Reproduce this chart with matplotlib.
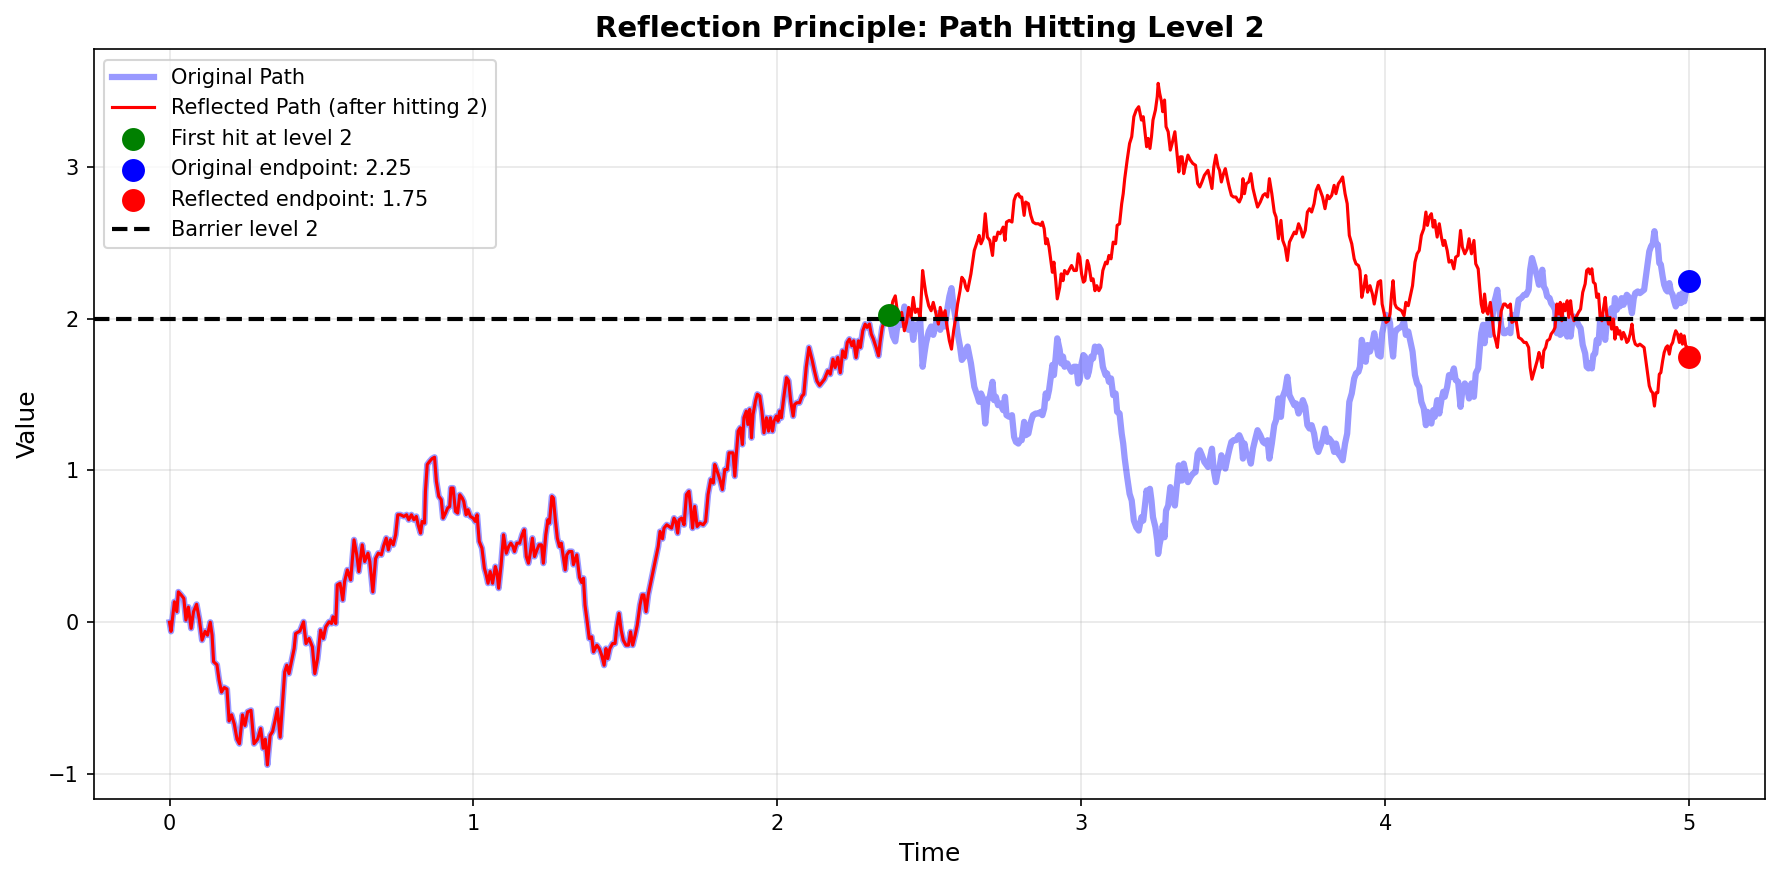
import numpy as np
import matplotlib
matplotlib.use("Agg")
import matplotlib.pyplot as plt

barrier_level = 2.0

# Original Brownian path (time, value)
time_pts = [
    0.000, 0.005, 0.016, 0.024, 0.029, 0.038, 0.047, 0.054, 0.062, 0.071,
    0.079, 0.089, 0.098, 0.107, 0.117, 0.125, 0.134, 0.140, 0.145, 0.156,
    0.163, 0.171, 0.180, 0.189, 0.196, 0.204, 0.213, 0.222, 0.230, 0.240,
    0.248, 0.257, 0.268, 0.278, 0.290, 0.300, 0.308, 0.315, 0.322, 0.331,
    0.339, 0.347, 0.355, 0.364, 0.372, 0.379, 0.386, 0.393, 0.401, 0.410,
    0.415, 0.429, 0.441, 0.449, 0.459, 0.470, 0.478, 0.487, 0.497, 0.506,
    0.514, 0.525, 0.533, 0.538, 0.547, 0.552, 0.561, 0.570, 0.576, 0.585,
    0.596, 0.607, 0.616, 0.623, 0.634, 0.642, 0.653, 0.659, 0.669, 0.678,
    0.687, 0.697, 0.704, 0.713, 0.720, 0.727, 0.736, 0.744, 0.751, 0.760,
    0.771, 0.780, 0.787, 0.796, 0.804, 0.812, 0.818, 0.826, 0.831, 0.839,
    0.842, 0.848, 0.856, 0.864, 0.872, 0.878, 0.886, 0.894, 0.900, 0.908,
    0.915, 0.922, 0.926, 0.933, 0.941, 0.948, 0.955, 0.963, 0.968, 0.976,
    0.982, 0.990, 0.999, 1.006, 1.012, 1.019, 1.028, 1.036, 1.042, 1.048,
    1.055, 1.063, 1.072, 1.077, 1.083, 1.091, 1.099, 1.108, 1.116, 1.123,
    1.130, 1.135, 1.143, 1.152, 1.160, 1.167, 1.174, 1.181, 1.187, 1.194,
    1.201, 1.209, 1.216, 1.224, 1.230, 1.238, 1.245, 1.250, 1.258, 1.263,
    1.269, 1.276, 1.283, 1.289, 1.294, 1.302, 1.307, 1.315, 1.324, 1.329,
    1.340, 1.349, 1.356, 1.362, 1.367, 1.375, 1.381, 1.389, 1.395, 1.406,
    1.414, 1.422, 1.430, 1.436, 1.442, 1.449, 1.458, 1.466, 1.471, 1.479,
    1.486, 1.493, 1.502, 1.510, 1.517, 1.524, 1.532, 1.539, 1.548, 1.555,
    1.561, 1.568, 1.575, 1.584, 1.592, 1.600, 1.608, 1.614, 1.622, 1.627,
    1.636, 1.644, 1.652, 1.660, 1.666, 1.672, 1.677, 1.685, 1.693, 1.701,
    1.709, 1.715, 1.721, 1.728, 1.736, 1.745, 1.756, 1.764, 1.772, 1.781,
    1.789, 1.794, 1.802, 1.811, 1.819, 1.827, 1.835, 1.841, 1.854, 1.860,
    1.865, 1.871, 1.878, 1.885, 1.890, 1.898, 1.903, 1.909, 1.915, 1.920,
    1.928, 1.934, 1.942, 1.949, 1.956, 1.964, 1.971, 1.977, 1.984, 1.989,
    1.997, 2.002, 2.008, 2.013, 2.021, 2.030, 2.037, 2.044, 2.052, 2.057,
    2.064, 2.073, 2.081, 2.087, 2.095, 2.104, 2.115, 2.122, 2.130, 2.139,
    2.155, 2.166, 2.174, 2.183, 2.190, 2.199, 2.207, 2.215, 2.223, 2.230,
    2.237, 2.245, 2.251, 2.259, 2.267, 2.273, 2.281, 2.289, 2.295, 2.303,
    2.309, 2.316, 2.325, 2.333, 2.338, 2.345, 2.352, 2.360, 2.366, 2.380,
    2.388, 2.393, 2.401, 2.409, 2.418, 2.425, 2.432, 2.440, 2.447, 2.454,
    2.462, 2.470, 2.478, 2.484, 2.489, 2.498, 2.506, 2.513, 2.522, 2.530,
    2.536, 2.544, 2.552, 2.557, 2.566, 2.573, 2.580, 2.588, 2.593, 2.601,
    2.607, 2.615, 2.620, 2.626, 2.637, 2.648, 2.659, 2.664, 2.670, 2.677,
    2.684, 2.691, 2.699, 2.708, 2.713, 2.719, 2.726, 2.733, 2.743, 2.749,
    2.754, 2.763, 2.772, 2.779, 2.785, 2.793, 2.798, 2.804, 2.812, 2.817,
    2.826, 2.834, 2.841, 2.850, 2.859, 2.867, 2.872, 2.878, 2.883, 2.888,
    2.894, 2.900, 2.905, 2.910, 2.916, 2.921, 2.929, 2.934, 2.940, 2.945,
    2.954, 2.962, 2.968, 2.976, 2.984, 2.990, 2.995, 3.001, 3.007, 3.012,
    3.020, 3.025, 3.033, 3.039, 3.045, 3.051, 3.058, 3.064, 3.071, 3.080,
    3.085, 3.091, 3.098, 3.105, 3.113, 3.118, 3.126, 3.133, 3.138, 3.143,
    3.151, 3.159, 3.166, 3.173, 3.181, 3.189, 3.198, 3.204, 3.209, 3.215,
    3.220, 3.226, 3.231, 3.236, 3.244, 3.250, 3.253, 3.258, 3.264, 3.268,
    3.274, 3.279, 3.286, 3.293, 3.299, 3.308, 3.315, 3.321, 3.326, 3.332,
    3.337, 3.343, 3.351, 3.359, 3.367, 3.376, 3.383, 3.390, 3.397, 3.405,
    3.417, 3.422, 3.430, 3.436, 3.443, 3.450, 3.455, 3.461, 3.468, 3.474,
    3.483, 3.488, 3.494, 3.501, 3.509, 3.515, 3.520, 3.527, 3.532, 3.537,
    3.543, 3.551, 3.558, 3.565, 3.573, 3.580, 3.589, 3.598, 3.605, 3.613,
    3.619, 3.627, 3.635, 3.641, 3.649, 3.657, 3.663, 3.671, 3.678, 3.685,
    3.693, 3.701, 3.707, 3.715, 3.722, 3.729, 3.737, 3.744, 3.751, 3.758,
    3.766, 3.773, 3.780, 3.788, 3.794, 3.802, 3.810, 3.816, 3.824, 3.832,
    3.838, 3.846, 3.854, 3.860, 3.868, 3.875, 3.882, 3.890, 3.898, 3.904,
    3.912, 3.917, 3.923, 3.930, 3.936, 3.942, 3.950, 3.958, 3.964, 3.972,
    3.977, 3.985, 3.990, 3.997, 4.003, 4.010, 4.016, 4.021, 4.026, 4.032,
    4.037, 4.045, 4.054, 4.062, 4.068, 4.076, 4.083, 4.090, 4.098, 4.105,
    4.112, 4.119, 4.127, 4.134, 4.139, 4.145, 4.152, 4.158, 4.163, 4.171,
    4.178, 4.185, 4.191, 4.196, 4.204, 4.210, 4.218, 4.226, 4.232, 4.240,
    4.248, 4.254, 4.262, 4.270, 4.276, 4.284, 4.292, 4.298, 4.306, 4.311,
    4.316, 4.322, 4.327, 4.333, 4.338, 4.346, 4.352, 4.358, 4.364, 4.369,
    4.377, 4.382, 4.390, 4.395, 4.404, 4.412, 4.417, 4.424, 4.431, 4.439,
    4.448, 4.457, 4.464, 4.472, 4.477, 4.483, 4.489, 4.495, 4.500, 4.506,
    4.511, 4.517, 4.522, 4.528, 4.533, 4.541, 4.546, 4.554, 4.559, 4.565,
    4.571, 4.576, 4.581, 4.587, 4.592, 4.599, 4.604, 4.610, 4.615, 4.621,
    4.628, 4.636, 4.643, 4.650, 4.658, 4.663, 4.669, 4.674, 4.680, 4.685,
    4.691, 4.696, 4.702, 4.707, 4.713, 4.718, 4.724, 4.729, 4.735, 4.740,
    4.745, 4.751, 4.756, 4.762, 4.767, 4.772, 4.778, 4.784, 4.789, 4.795,
    4.800, 4.806, 4.812, 4.818, 4.823, 4.831, 4.838, 4.845, 4.852, 4.858,
    4.864, 4.869, 4.875, 4.880, 4.886, 4.891, 4.897, 4.902, 4.907, 4.913,
    4.918, 4.924, 4.929, 4.935, 4.940, 4.946, 4.951, 4.956, 4.962, 4.968,
    4.973, 4.978, 4.984, 4.989, 4.995, 5.000,
]

path_values = [
    0.000, -0.060, 0.135, 0.070, 0.200, 0.180, 0.157, 0.015, 0.100, -0.040,
    0.070, 0.118, 0.020, -0.118, -0.060, -0.085, 0.000, -0.085, -0.260, -0.280,
    -0.380, -0.460, -0.430, -0.440, -0.650, -0.610, -0.670, -0.770, -0.800, -0.610,
    -0.680, -0.590, -0.580, -0.800, -0.770, -0.700, -0.830, -0.770, -0.940, -0.745,
    -0.720, -0.650, -0.570, -0.757, -0.525, -0.327, -0.283, -0.338, -0.261, -0.173,
    -0.074, -0.058, 0.003, -0.140, -0.107, -0.162, -0.338, -0.240, -0.052, -0.107,
    -0.030, 0.003, -0.008, 0.036, -0.008, 0.246, 0.257, 0.147, 0.268, 0.345,
    0.279, 0.543, 0.444, 0.334, 0.510, 0.400, 0.455, 0.400, 0.200, 0.420,
    0.455, 0.444, 0.500, 0.554, 0.477, 0.543, 0.510, 0.576, 0.708, 0.708,
    0.697, 0.708, 0.675, 0.708, 0.675, 0.697, 0.642, 0.587, 0.664, 0.653,
    0.862, 1.039, 1.060, 1.078, 1.087, 0.929, 0.829, 0.808, 0.686, 0.719,
    0.752, 0.763, 0.884, 0.884, 0.730, 0.719, 0.840, 0.818, 0.796, 0.708,
    0.741, 0.697, 0.686, 0.664, 0.708, 0.532, 0.488, 0.356, 0.312, 0.257,
    0.334, 0.257, 0.367, 0.334, 0.224, 0.378, 0.576, 0.455, 0.499, 0.521,
    0.499, 0.466, 0.521, 0.521, 0.576, 0.609, 0.433, 0.389, 0.455, 0.554,
    0.433, 0.477, 0.510, 0.510, 0.389, 0.576, 0.675, 0.653, 0.829, 0.818,
    0.686, 0.554, 0.499, 0.521, 0.455, 0.345, 0.444, 0.466, 0.466, 0.380,
    0.444, 0.295, 0.262, 0.290, 0.114, -0.008, -0.107, -0.096, -0.195, -0.151,
    -0.173, -0.217, -0.283, -0.173, -0.239, -0.173, -0.140, -0.140, -0.041, 0.058,
    -0.052, -0.118, -0.151, -0.151, -0.063, -0.151, -0.085, -0.019, 0.114, 0.180,
    0.180, 0.070, 0.180, 0.268, 0.345, 0.422, 0.499, 0.598, 0.550, 0.620,
    0.642, 0.631, 0.620, 0.686, 0.664, 0.587, 0.675, 0.686, 0.642, 0.841,
    0.862, 0.752, 0.620, 0.763, 0.631, 0.653, 0.642, 0.664, 0.841, 0.940,
    0.917, 1.039, 0.995, 0.940, 0.874, 1.006, 1.006, 1.116, 1.116, 0.962,
    1.105, 1.259, 1.281, 1.171, 1.347, 1.391, 1.303, 1.402, 1.215, 1.369,
    1.457, 1.502, 1.490, 1.391, 1.248, 1.347, 1.259, 1.347, 1.259, 1.325,
    1.358, 1.325, 1.391, 1.347, 1.479, 1.611, 1.590, 1.457, 1.358, 1.435,
    1.446, 1.446, 1.490, 1.502, 1.680, 1.810, 1.722, 1.656, 1.590, 1.560,
    1.601, 1.656, 1.634, 1.733, 1.678, 1.744, 1.644, 1.788, 1.744, 1.843,
    1.865, 1.821, 1.854, 1.744, 1.854, 1.810, 1.920, 1.964, 1.942, 1.964,
    1.898, 1.865, 1.810, 1.755, 1.843, 1.942, 1.986, 1.995, 2.026, 1.885,
    1.850, 1.926, 2.002, 1.959, 2.080, 2.025, 1.926, 1.992, 1.860, 1.959,
    1.937, 1.992, 1.683, 1.771, 1.837, 1.915, 1.948, 1.893, 1.970, 2.036,
    1.926, 1.992, 1.948, 2.036, 2.146, 2.201, 2.080, 1.981, 1.904, 1.816,
    1.728, 1.750, 1.794, 1.816, 1.705, 1.551, 1.485, 1.452, 1.507, 1.474,
    1.309, 1.463, 1.485, 1.584, 1.463, 1.485, 1.430, 1.441, 1.397, 1.485,
    1.364, 1.353, 1.364, 1.221, 1.188, 1.177, 1.199, 1.199, 1.320, 1.232,
    1.243, 1.320, 1.364, 1.375, 1.375, 1.386, 1.364, 1.408, 1.507, 1.474,
    1.529, 1.617, 1.695, 1.628, 1.750, 1.870, 1.794, 1.705, 1.750, 1.683,
    1.705, 1.672, 1.650, 1.683, 1.683, 1.573, 1.595, 1.705, 1.760, 1.750,
    1.617, 1.650, 1.750, 1.738, 1.816, 1.783, 1.816, 1.794, 1.683, 1.628,
    1.639, 1.584, 1.606, 1.496, 1.507, 1.386, 1.375, 1.243, 1.177, 1.078,
    0.956, 0.846, 0.802, 0.670, 0.626, 0.604, 0.692, 0.670, 0.758, 0.868,
    0.813, 0.879, 0.802, 0.692, 0.626, 0.538, 0.450, 0.516, 0.571, 0.637,
    0.560, 0.736, 0.769, 0.890, 0.846, 0.769, 0.912, 1.034, 0.934, 0.934,
    1.045, 0.990, 0.923, 0.956, 0.978, 0.990, 1.111, 1.133, 1.100, 1.056,
    1.023, 1.067, 1.143, 1.001, 0.923, 1.000, 1.023, 1.100, 1.045, 1.012,
    1.100, 1.143, 1.188, 1.199, 1.199, 1.221, 1.232, 1.199, 1.078, 1.177,
    1.111, 1.100, 1.045, 1.143, 1.210, 1.265, 1.232, 1.188, 1.177, 1.199,
    1.078, 1.177, 1.298, 1.331, 1.474, 1.353, 1.485, 1.529, 1.617, 1.496,
    1.463, 1.430, 1.441, 1.375, 1.408, 1.463, 1.419, 1.298, 1.276, 1.298,
    1.243, 1.155, 1.122, 1.166, 1.199, 1.276, 1.188, 1.210, 1.188, 1.122,
    1.177, 1.111, 1.089, 1.067, 1.177, 1.243, 1.452, 1.507, 1.606, 1.639,
    1.650, 1.683, 1.860, 1.794, 1.716, 1.826, 1.783, 1.838, 1.904, 1.816,
    1.760, 1.750, 1.904, 1.970, 2.025, 2.014, 1.970, 1.838, 1.750, 1.904,
    1.926, 1.937, 1.948, 1.981, 1.893, 1.915, 1.849, 1.783, 1.628, 1.573,
    1.551, 1.452, 1.408, 1.298, 1.386, 1.331, 1.309, 1.397, 1.353, 1.463,
    1.375, 1.463, 1.518, 1.485, 1.551, 1.628, 1.617, 1.672, 1.595, 1.584,
    1.419, 1.529, 1.573, 1.540, 1.474, 1.573, 1.485, 1.639, 1.672, 1.794,
    1.904, 1.959, 1.838, 1.948, 1.970, 1.893, 1.992, 2.102, 2.146, 2.190,
    2.036, 1.948, 1.904, 1.904, 1.926, 1.904, 2.025, 2.014, 2.014, 2.124,
    2.135, 2.157, 2.157, 2.190, 2.322, 2.399, 2.356, 2.311, 2.278, 2.223,
    2.256, 2.322, 2.212, 2.190, 2.146, 2.135, 2.102, 2.080, 2.058, 1.904,
    1.970, 1.893, 2.014, 1.904, 1.948, 1.882, 1.992, 1.882, 1.970, 2.014,
    1.992, 1.959, 1.937, 1.827, 1.771, 1.683, 1.672, 1.705, 1.672, 1.760,
    1.771, 1.860, 1.838, 1.981, 2.014, 1.937, 1.860, 1.970, 2.036, 1.992,
    2.069, 2.002, 2.135, 2.058, 2.102, 2.080, 2.135, 2.091, 2.113, 2.157,
    2.146, 2.102, 2.036, 2.135, 2.168, 2.179, 2.168, 2.179, 2.190, 2.278,
    2.366, 2.443, 2.477, 2.488, 2.576, 2.488, 2.488, 2.366, 2.356, 2.278,
    2.223, 2.190, 2.179, 2.234, 2.179, 2.157, 2.113, 2.080, 2.102, 2.157,
    2.102, 2.168, 2.113, 2.179, 2.190, 2.250,
]

t = np.array(time_pts)
path = np.array(path_values)

# First time the path reaches the barrier, and the reflected path after it
hit_idx = int(np.argmax(path >= barrier_level))
reflected = path.copy()
reflected[hit_idx:] = 2 * barrier_level - path[hit_idx:]

fig = plt.figure(figsize=(11.88, 5.867), dpi=150)
ax = fig.add_axes([0.0525, 0.092, 0.938, 0.852])

ax.plot(t, path, color='blue', alpha=0.4, linewidth=3, label='Original Path')
ax.plot(t, reflected, color='red', linewidth=1.5, label='Reflected Path (after hitting 2)')
ax.scatter(t[hit_idx], path[hit_idx], color='green', s=100, zorder=5,
           label='First hit at level 2')
ax.scatter(t[-1], path[-1], color='blue', s=100, zorder=5,
           label=f'Original endpoint: {path[-1]:.2f}')
ax.scatter(t[-1], reflected[-1], color='red', s=100, zorder=5,
           label=f'Reflected endpoint: {reflected[-1]:.2f}')
ax.axhline(barrier_level, color='black', linestyle='--', linewidth=2,
           label='Barrier level 2')

ax.set_xlabel('Time', fontsize=12)
ax.set_ylabel('Value', fontsize=12)
ax.set_title('Reflection Principle: Path Hitting Level 2', fontsize=14, fontweight='bold')
ax.legend(loc='upper left')
ax.grid(True, alpha=0.3)

fig.savefig('out.png', dpi=150)
